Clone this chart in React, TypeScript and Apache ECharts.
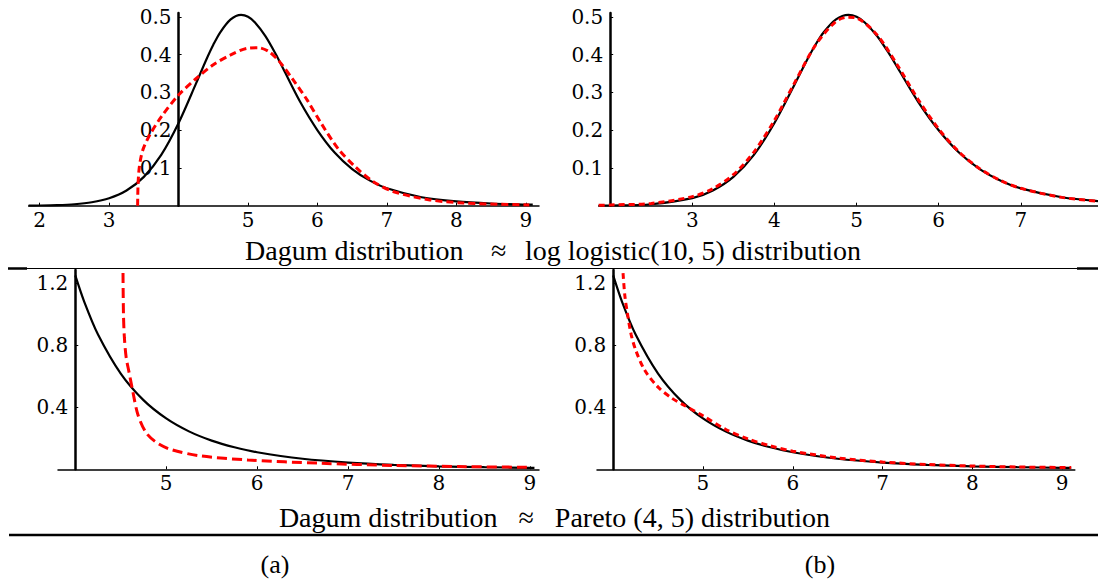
import React, { useEffect, useRef } from "react";
import * as echarts from "echarts";

// Panel (a) top: Dagum vs log logistic(10, 5)
const aBlackX = [1.84, 2, 2.25, 2.5, 2.75, 3, 3.25, 3.5, 3.75, 4, 4.25, 4.4, 4.5, 4.6, 4.75, 4.9, 5, 5.1, 5.25, 5.4, 5.5, 5.75, 6, 6.25, 6.5, 6.75, 7, 7.5, 8, 8.5, 9, 9.1];
const aBlackY = [0.0003, 0.0005, 0.0015, 0.0039, 0.0092, 0.0199, 0.0403, 0.0763, 0.1346, 0.219, 0.323, 0.387, 0.426, 0.459, 0.493, 0.505, 0.5, 0.485, 0.449, 0.401, 0.365, 0.275, 0.1996, 0.14, 0.097, 0.067, 0.046, 0.0223, 0.0112, 0.0058, 0.0031, 0.0028];
const aRedX = [3.41, 3.415, 3.43, 3.46, 3.5, 3.6, 3.75, 4.0, 4.25, 4.5, 4.75, 5.0, 5.15, 5.3, 5.45, 5.65, 5.85, 6.05, 6.3, 6.55, 6.8, 7.1, 7.6, 8.1, 8.6, 9.05];
const aRedY = [0, 0.05, 0.095, 0.13, 0.155, 0.192, 0.235, 0.293, 0.336, 0.373, 0.399, 0.417, 0.418, 0.408, 0.382, 0.333, 0.28, 0.219, 0.15, 0.102, 0.064, 0.037, 0.016, 0.007, 0.004, 0.002];

// Panel (b) top
const bBlackX = [1.86, 2, 2.5, 3, 3.25, 3.5, 3.75, 4, 4.25, 4.4, 4.5, 4.6, 4.75, 4.9, 5, 5.1, 5.25, 5.4, 5.5, 5.75, 6, 6.25, 6.5, 6.75, 7, 7.5, 7.94];
const bBlackY = [0.0003, 0.0005, 0.0039, 0.0199, 0.0403, 0.0763, 0.1346, 0.219, 0.323, 0.387, 0.426, 0.459, 0.493, 0.505, 0.5, 0.485, 0.449, 0.401, 0.365, 0.275, 0.1996, 0.14, 0.097, 0.067, 0.046, 0.0223, 0.0121];
const bRedX = [1.86, 2, 2.5, 3, 3.25, 3.5, 3.75, 4, 4.25, 4.5, 4.75, 4.9, 5, 5.25, 5.5, 5.75, 6, 6.25, 6.5, 6.75, 7, 7.5, 7.94];
const bRedY = [0.001, 0.002, 0.006, 0.024, 0.045, 0.082, 0.142, 0.226, 0.327, 0.425, 0.488, 0.499, 0.497, 0.452, 0.371, 0.281, 0.203, 0.142, 0.098, 0.067, 0.046, 0.022, 0.012];

// Panel (a) bottom: Dagum vs Pareto (4, 5)
const cBlackX = [4, 4.1, 4.25, 4.5, 4.75, 5, 5.25, 5.5, 5.75, 6, 6.5, 7, 7.5, 8, 8.5, 9, 9.05];
const cBlackY = [1.25, 1.078, 0.869, 0.617, 0.446, 0.328, 0.2445, 0.185, 0.142, 0.1097, 0.0679, 0.0435, 0.0288, 0.0195, 0.0136, 0.0096, 0.0091];
const cRedX = [4.525, 4.53, 4.54, 4.56, 4.59, 4.63, 4.69, 4.78, 4.9, 5.06, 5.37, 5.9, 6.7, 7.5, 8.3, 9.0];
const cRedY = [1.265, 1.0, 0.85, 0.72, 0.63, 0.51, 0.35, 0.235, 0.17, 0.126, 0.087, 0.06, 0.039, 0.025, 0.017, 0.013];

// Panel (b) bottom
const dBlackX = [4, 4.1, 4.25, 4.5, 4.75, 5, 5.25, 5.5, 5.75, 6, 6.5, 7, 7.5, 8, 8.5, 9, 9.1];
const dBlackY = [1.25, 1.078, 0.869, 0.617, 0.446, 0.328, 0.2445, 0.185, 0.142, 0.1097, 0.0679, 0.0435, 0.0288, 0.0195, 0.0136, 0.0096, 0.009];
const dRedX = [4.11, 4.13, 4.16, 4.2, 4.25, 4.35, 4.5, 4.65, 4.8, 5.0, 5.25, 5.5, 5.75, 6, 6.5, 7, 7.5, 8, 8.5, 9.1];
const dRedY = [1.265, 1.12, 1.0, 0.87, 0.77, 0.64, 0.53, 0.46, 0.41, 0.345, 0.258, 0.196, 0.151, 0.117, 0.073, 0.047, 0.031, 0.021, 0.015, 0.011];

// Axis ticks (real x values) and y ticks
const aTicksX = [2, 3, 5, 6, 7, 8, 9];
const bTicksX = [3, 4, 5, 6, 7];
const cTicksX = [5, 6, 7, 8, 9];
const dTicksX = [5, 6, 7, 8, 9];
const topTicksY = [0.1, 0.2, 0.3, 0.4, 0.5];
const botTicksY = [0.4, 0.8, 1.2];

const topCaptionLeft = "Dagum distribution";
const topCaptionMid = "≈";
const topCaptionRight = "log logistic(10, 5) distribution";
const bottomCaption = "Dagum distribution   ≈   Pareto (4, 5) distribution";
const labelA = "(a)";
const labelB = "(b)";

export default function App() {
  const ref = useRef<HTMLDivElement>(null);
  useEffect(() => {
    if (!ref.current) return;
    const chart = echarts.init(ref.current, undefined, { renderer: "svg" });

    const panels = [
      { grid: { left: 28.6, top: 13, width: 510.4, height: 192.7 }, origin: 4, xmin: 1.84, xmax: 9.19, ymax: 0.51, tx: aTicksX, ty: topTicksY, bx: aBlackX, by: aBlackY, rx: aRedX, ry: aRedY, dash: [7, 4] },
      { grid: { left: 598.7, top: 13, width: 499.3, height: 192.7 }, origin: 2, xmin: 1.86, xmax: 7.94, ymax: 0.51, tx: bTicksX, ty: topTicksY, bx: bBlackX, by: bBlackY, rx: bRedX, ry: bRedY, dash: [6, 4] },
      { grid: { left: 58, top: 270, width: 481, height: 199.3 }, origin: 4, xmin: 3.81, xmax: 9.1, ymax: 1.285, tx: cTicksX, ty: botTicksY, bx: cBlackX, by: cBlackY, rx: cRedX, ry: cRedY, dash: [10, 5] },
      { grid: { left: 597, top: 270, width: 477.8, height: 199.3 }, origin: 4, xmin: 3.82, xmax: 9.14, ymax: 1.285, tx: dTicksX, ty: botTicksY, bx: dBlackX, by: dBlackY, rx: dRedX, ry: dRedY, dash: [6, 4] },
    ];

    const labelStyle = { color: "#000", fontFamily: "DejaVu Serif", fontSize: 20 };

    const option: any = {
      animation: false,
      backgroundColor: "#fff",
      grid: panels.map((p) => ({ ...p.grid, containLabel: false, outerBoundsMode: "none" })),
      xAxis: panels.map((p, i) => ({
        type: "value",
        gridIndex: i,
        min: p.xmin,
        max: p.xmax,
        splitLine: { show: false },
        axisLine: { show: true, onZero: true, lineStyle: { color: "#000", width: 1.5 } },
        axisTick: { show: true, inside: true, length: 3, lineStyle: { color: "#000", width: 1 }, customValues: p.tx },
        axisLabel: {
          ...labelStyle,
          margin: 4,
          customValues: p.tx,
          formatter: (v: number) => String(Math.round(v)),
        },
      })),
      yAxis: panels.map((p, i) => ({
        type: "value",
        gridIndex: i,
        min: 0,
        max: p.ymax,
        // the y axis crosses the x axis at the panel's origin value
        offset: -((p.origin - p.xmin) / (p.xmax - p.xmin)) * p.grid.width,
        splitLine: { show: false },
        axisLine: { show: true, onZero: false, lineStyle: { color: "#000", width: 2.5 } },
        axisTick: { show: true, inside: true, length: 3, lineStyle: { color: "#000", width: 1 }, customValues: p.ty },
        axisLabel: {
          ...labelStyle,
          margin: 7,
          customValues: p.ty,
          formatter: (v: number) => v.toFixed(1),
        },
      })),
      series: panels.flatMap((p, i) => [
        {
          type: "line",
          xAxisIndex: i,
          yAxisIndex: i,
          data: p.bx.map((x, k) => [x, p.by[k]]),
          showSymbol: false,
          symbol: "none",
          smooth: 0.3,
          lineStyle: { color: "#000", width: 2.2 },
          z: 3,
        },
        {
          type: "line",
          xAxisIndex: i,
          yAxisIndex: i,
          data: p.rx.map((x, k) => [x, p.ry[k]]),
          showSymbol: false,
          symbol: "none",
          smooth: 0.3,
          lineStyle: { color: "#ff0000", width: 3, type: p.dash },
          z: 4,
        },
      ]),
      graphic: [
        { type: "text", left: 245, top: 236, style: { text: topCaptionLeft, fontFamily: "Liberation Serif", fontSize: 28, fill: "#000" } },
        { type: "text", left: 491, top: 236, style: { text: topCaptionMid, fontFamily: "Liberation Serif", fontSize: 28, fill: "#000" } },
        { type: "text", left: 525, top: 236, style: { text: topCaptionRight, fontFamily: "Liberation Serif", fontSize: 28, fill: "#000" } },
        { type: "line", shape: { x1: 8, y1: 268.5, x2: 1098, y2: 268.5 }, style: { stroke: "#000", lineWidth: 1 } },
        { type: "line", shape: { x1: 8, y1: 268.5, x2: 27, y2: 268.5 }, style: { stroke: "#000", lineWidth: 2.5 } },
        { type: "line", shape: { x1: 1077, y1: 268.5, x2: 1098, y2: 268.5 }, style: { stroke: "#000", lineWidth: 2.5 } },
        { type: "text", x: 554.5, y: 517, style: { text: bottomCaption, fontFamily: "Liberation Serif", fontSize: 28, fill: "#000", align: "center", verticalAlign: "middle" } },
        { type: "line", shape: { x1: 9, y1: 535, x2: 1098, y2: 535 }, style: { stroke: "#000", lineWidth: 2.7 } },
        { type: "text", x: 275, y: 564, style: { text: labelA, fontFamily: "Liberation Serif", fontSize: 26, fill: "#000", align: "center", verticalAlign: "middle" } },
        { type: "text", x: 820, y: 564, style: { text: labelB, fontFamily: "Liberation Serif", fontSize: 26, fill: "#000", align: "center", verticalAlign: "middle" } },
      ],
    };
    chart.setOption(option);
    return () => chart.dispose();
  }, []);
  return <div ref={ref} style={{ position: "absolute", left: 0, top: 0, width: 1098, height: 580 }} />;
}
